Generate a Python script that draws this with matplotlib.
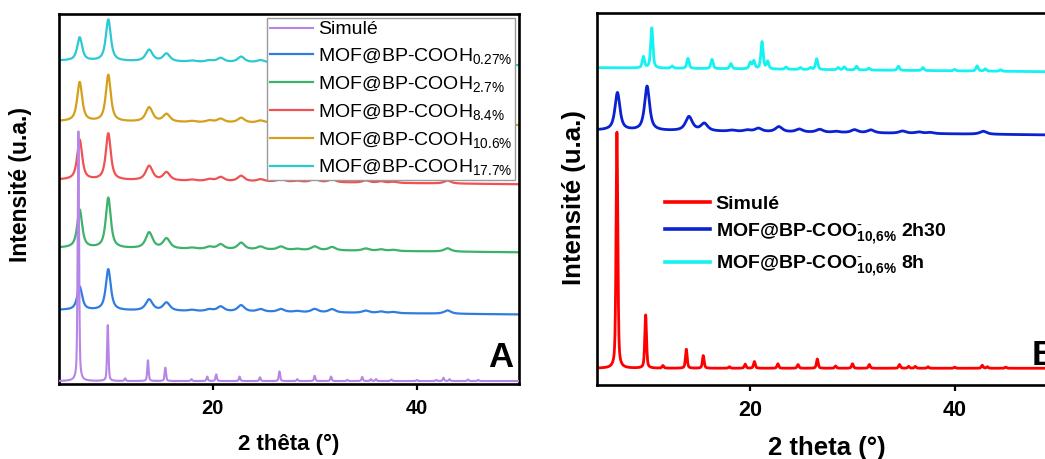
import numpy as np
import matplotlib
matplotlib.use("Agg")
import matplotlib.pyplot as plt
from matplotlib.ticker import MultipleLocator

plt.rcParams['font.family'] = ['Liberation Sans', 'DejaVu Sans']
plt.rcParams['mathtext.default'] = 'regular'

# ---- data: peak positions (2theta, deg) and heights (a.u.) ----
# panel A
sim_a_pos = [6.87, 9.75, 11.45, 13.68, 15.38, 17.94, 19.48, 20.36, 22.65, 24.65, 26.55, 28.3,
             30.0, 31.6, 33.2, 34.65, 35.5, 36.0, 37.5, 40.0, 41.9, 42.6, 43.2, 45.0, 46.0]
sim_a_h = [67.5, 15.1, 0.7, 5.6, 3.6, 0.5, 1.2, 1.8, 1.2, 1.0, 2.6, 0.5,
           1.4, 1.2, 0.3, 1.1, 0.5, 0.5, 0.4, 0.3, 0.3, 0.9, 0.5, 0.4, 0.3]

exp_pos = [7.0, 9.8, 13.8, 15.5, 18.0, 19.7, 20.8, 22.8, 24.7, 26.7, 28.3, 30.0, 31.7,
           35.0, 36.5, 37.7, 43.0]
h_027 = [6.3, 11.1, 3.0, 2.2, 0.3, 0.5, 1.3, 1.7, 0.7, 0.8, 0.3, 0.9, 0.9, 0.6, 0.4, 0.3, 0.9]
h_27 = [10.3, 13.6, 4.3, 2.7, 0.3, 0.6, 1.3, 1.8, 0.8, 0.9, 0.3, 1.0, 0.9, 0.6, 0.4, 0.3, 0.9]
h_84 = [10.8, 12.6, 3.9, 2.2, 0.3, 0.5, 1.1, 1.5, 0.6, 0.8, 0.3, 0.9, 0.8, 0.6, 0.4, 0.3, 0.8]
h_106 = [10.6, 12.6, 3.9, 2.1, 0.3, 0.5, 1.0, 1.3, 0.6, 0.8, 0.3, 0.9, 0.8, 0.6, 0.4, 0.3, 0.8]
h_177 = [6.3, 11.2, 3.1, 2.1, 0.3, 0.4, 1.1, 1.5, 0.6, 0.8, 0.3, 0.9, 0.8, 0.6, 0.4, 0.3, 0.8]
# baseline (start, end) for each curve
base_a = {'sim': (0.8, 0.8), '027': (20.0, 18.8), '27': (36.8, 35.6),
          '84': (55.2, 54.0), '106': (71.0, 70.0), '177': (87.4, 86.2)}
labels_a = ['Simulé', r'MOF@BP-COOH$_{0.27\%}$', r'MOF@BP-COOH$_{2.7\%}$',
            r'MOF@BP-COOH$_{8.4\%}$', r'MOF@BP-COOH$_{10.6\%}$', r'MOF@BP-COOH$_{17.7\%}$']
colors_a = ['#b784e8', '#2f7de1', '#3cb26a', '#f05252', '#d4a01c', '#2cc9d0']

# panel B
sim_b_pos = [6.95, 9.76, 11.45, 13.74, 15.4, 17.95, 19.5, 20.4, 22.7, 24.67, 26.56, 28.35,
             30.0, 31.65, 34.6, 35.5, 36.15, 37.4, 40.0, 42.7, 43.2, 45.0]
sim_b_h = [63.5, 14.3, 0.7, 5.1, 3.4, 0.4, 1.1, 1.8, 1.2, 1.0, 2.5, 0.6,
           1.2, 1.0, 1.0, 0.5, 0.5, 0.4, 0.3, 0.8, 0.4, 0.3]
b230_pos = [7.0, 9.9, 14.0, 15.5, 18.2, 19.7, 20.8, 22.8, 24.8, 26.8, 28.4, 30.2, 31.8,
            34.9, 36.5, 37.6, 42.8]
b230_h = [10.1, 11.9, 3.8, 2.0, 0.3, 0.4, 0.9, 1.4, 0.8, 0.8, 0.3, 0.8, 0.8, 0.6, 0.4, 0.3, 0.8]
b8h_pos = [9.54, 10.36, 12.35, 13.9, 16.25, 18.1, 20.0, 20.35, 21.15, 21.7, 23.5, 24.9,
           25.9, 26.5, 28.6, 29.2, 30.4, 31.6, 34.5, 36.9, 40.0, 42.2, 43.0, 44.5]
b8h_h = [3.0, 10.8, 0.6, 2.7, 2.5, 1.4, 1.7, 2.1, 7.3, 2.0, 0.6, 0.5,
         0.5, 2.9, 0.6, 0.8, 1.0, 0.5, 1.1, 0.8, 0.4, 1.4, 0.6, 0.4]
base_b = {'sim': (4.5, 4.5), '230': (68.5, 67.2), '8h': (85.3, 84.2)}
labels_b = ['Simulé', r'MOF@BP-COO$^{\text{-}}_{10{,}6\%}$ 2h30', r'MOF@BP-COO$^{\text{-}}_{10{,}6\%}$ 8h']
colors_b = ['#ff0000', '#0a22d0', '#14f2f2']

x = np.linspace(5, 50, 5000)


def pattern(pos, heights, base, fwhm, eta=0.7):
    """sum of pseudo-Voigt peaks on a linear baseline"""
    y = base[0] + (base[1] - base[0]) * (x - x[0]) / (x[-1] - x[0])
    for p, h in zip(pos, heights):
        w = fwhm if np.isscalar(fwhm) else fwhm(p)
        d = (x - p) / (w / 2)
        lor = 1 / (1 + d ** 2)
        gau = np.exp(-np.log(2) * d ** 2)
        y = y + h * (eta * lor + (1 - eta) * gau)
    return y


def exp_width(p):
    return 0.58 if p < 12 else 0.8


fig = plt.figure(figsize=(10.45, 4.59), dpi=100)
axA = fig.add_axes([0.0567, 0.1634, 0.44, 0.806])
axB = fig.add_axes([0.5713, 0.1612, 0.44, 0.8105])

# panel A
axA.plot(x, pattern(exp_pos, h_027, base_a['027'], exp_width, 0.8), color=colors_a[1], lw=1.6, label=labels_a[1])
axA.plot(x, pattern(exp_pos, h_27, base_a['27'], exp_width, 0.8), color=colors_a[2], lw=1.6, label=labels_a[2])
axA.plot(x, pattern(exp_pos, h_84, base_a['84'], exp_width, 0.8), color=colors_a[3], lw=1.6, label=labels_a[3])
axA.plot(x, pattern(exp_pos, h_106, base_a['106'], exp_width, 0.8), color=colors_a[4], lw=1.6, label=labels_a[4])
axA.plot(x, pattern(exp_pos, h_177, base_a['177'], exp_width, 0.8), color=colors_a[5], lw=1.6, label=labels_a[5])
axA.plot(x, pattern(sim_a_pos, sim_a_h, base_a['sim'], 0.16, eta=0.5), color=colors_a[0], lw=1.5,
         label=labels_a[0], zorder=3)

handles, labs = axA.get_legend_handles_labels()
order = [5, 0, 1, 2, 3, 4]
legA = axA.legend([handles[i] for i in order], [labs[i] for i in order], loc='upper right',
                  fontsize=14, frameon=True, fancybox=False, framealpha=1, edgecolor='#9a9a9a',
                  borderpad=0.15, borderaxespad=0.2, labelspacing=0.4, handlelength=2.2,
                  handletextpad=0.25)
legA.get_frame().set_linewidth(1.0)
legA.set_zorder(5)

axA.set_xlim(5, 50)
axA.set_ylim(0, 100)
axA.text(0.987, 0.047, 'A', transform=axA.transAxes, ha='right', va='baseline',
         fontsize=25, fontweight='bold')
axA.set_xlabel('2 thêta (°)', fontsize=16, fontweight='bold')
axA.set_ylabel('Intensité (u.a.)', fontsize=16.5, fontweight='bold')
axA.xaxis.set_label_coords(0.5, -0.135)
axA.yaxis.set_label_coords(-0.06, 0.54)

# panel B
axB.plot(x, pattern(sim_b_pos, sim_b_h, base_b['sim'], 0.2, eta=0.5), color=colors_b[0], lw=2.0, label=labels_b[0])
axB.plot(x, pattern(b230_pos, b230_h, base_b['230'], exp_width, 0.8), color=colors_b[1], lw=2.0, label=labels_b[1])
axB.plot(x, pattern(b8h_pos, b8h_h, base_b['8h'], 0.26, eta=0.6), color=colors_b[2], lw=2.0, label=labels_b[2])

legB = axB.legend(loc='upper left', bbox_to_anchor=(0.148, 0.51), frameon=False,
                  prop={'size': 14, 'weight': 'bold'}, borderpad=0, borderaxespad=0,
                  labelspacing=0.4, handlelength=2.3, handletextpad=0.3)
for line in legB.get_lines():
    line.set_linewidth(2.6)

axB.set_xlim(5, 50)
axB.set_ylim(0, 100)
axB.text(0.945, 0.054, 'B', transform=axB.transAxes, ha='left', va='baseline',
         fontsize=25, fontweight='bold')
axB.set_xlabel('2 theta (°)', fontsize=18.5, fontweight='bold')
axB.set_ylabel('Intensité (u.a.)', fontsize=18.5, fontweight='bold')
axB.xaxis.set_label_coords(0.5, -0.138)
axB.yaxis.set_label_coords(-0.025, 0.503)

for ax, fs in [(axA, 14.5), (axB, 15.5)]:
    ax.xaxis.set_major_locator(MultipleLocator(20))
    ax.tick_params(axis='x', direction='out', length=4.5, width=1.6, labelsize=fs, pad=6)
    ax.tick_params(axis='y', left=False, labelleft=False)
    for lab in ax.get_xticklabels():
        lab.set_fontweight('bold')
    for s in ax.spines.values():
        s.set_linewidth(1.9)

fig.savefig('out.png', dpi=100)
